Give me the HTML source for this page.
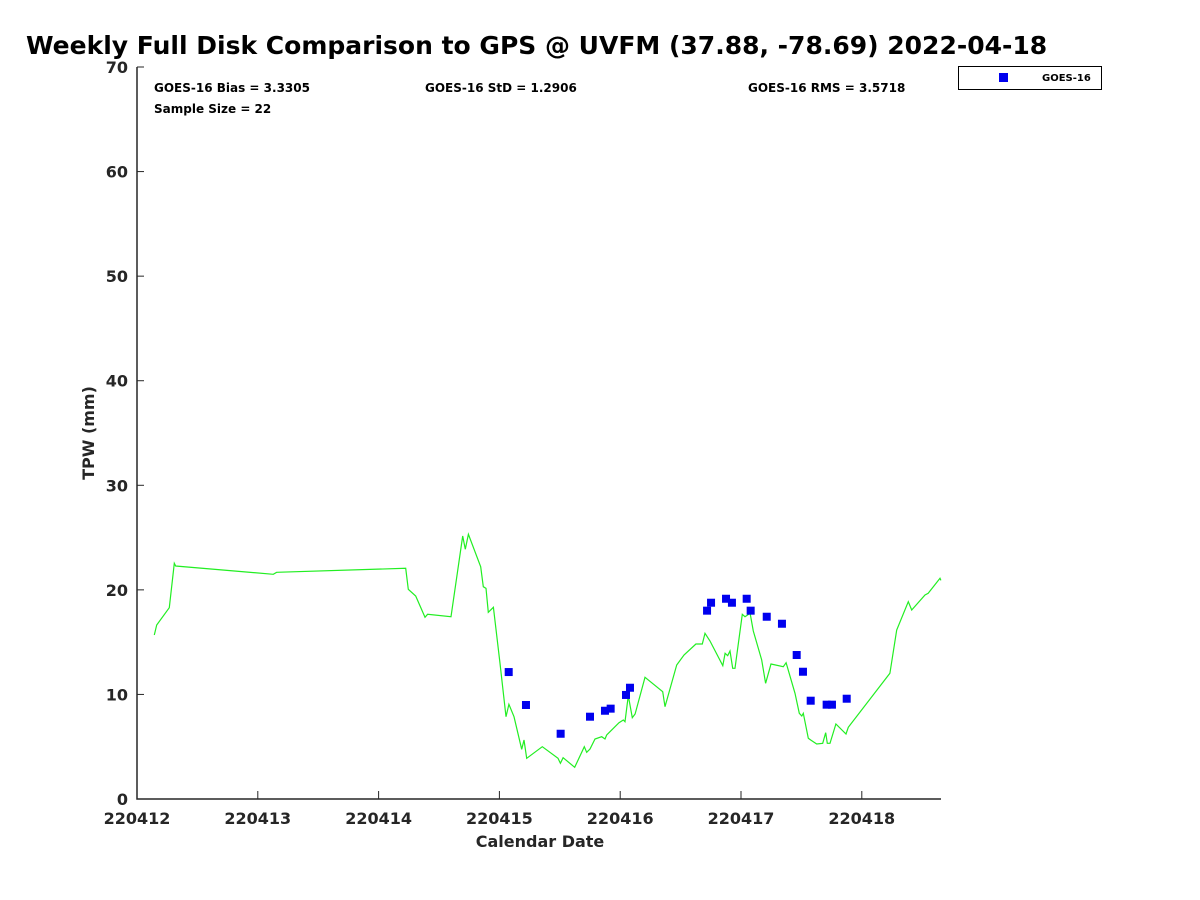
<!DOCTYPE html>
<html><head><meta charset="utf-8"><style>
html,body{margin:0;padding:0;background:#fff;}
svg{display:block;font-family:"DejaVu Sans","Liberation Sans",sans-serif;}
</style></head><body>
<svg id="chart" width="1200" height="900" viewBox="0 0 1200 900">
<text x="26" y="54" font-size="25" font-weight="bold" fill="#000">Weekly Full Disk Comparison to GPS @ UVFM (37.88, -78.69) 2022-04-18</text>
<g id="axes"></g>
<g id="series"></g>
<text x="154" y="92" font-size="12" font-weight="bold">GOES-16 Bias = 3.3305</text>
<text x="425" y="92" font-size="12" font-weight="bold">GOES-16 StD = 1.2906</text>
<text x="748" y="92" font-size="12" font-weight="bold">GOES-16 RMS = 3.5718</text>
<text x="154" y="113" font-size="12" font-weight="bold">Sample Size = 22</text>
<g>
<rect x="958.5" y="66.5" width="143" height="23" fill="#fff" stroke="#000" stroke-width="1"/>
<rect x="999" y="73" width="9" height="9" fill="#0000ee"/>
<text x="1042" y="81" font-size="10" font-weight="bold">GOES-16</text>
</g>
<text x="540" y="847" font-size="16" font-weight="bold" fill="#262626" text-anchor="middle">Calendar Date</text>
<text transform="translate(94,433) rotate(-90)" font-size="16" font-weight="bold" fill="#262626" text-anchor="middle">TPW (mm)</text>
</svg>
<script>
const xTickLabels = ["220412","220413","220414","220415","220416","220417","220418"];
const yTickValues = [0,10,20,30,40,50,60,70];
const gpsDays = [0.143,0.163,0.267,0.309,0.320,1.128,1.156,2.224,2.246,2.307,2.384,2.406,2.599,2.696,2.718,2.743,2.845,2.867,2.889,2.908,2.950,3.005,3.055,3.079,3.121,3.185,3.204,3.226,3.355,3.485,3.505,3.527,3.623,3.703,3.723,3.750,3.791,3.847,3.874,3.888,3.990,4.026,4.040,4.067,4.100,4.123,4.205,4.352,4.371,4.468,4.528,4.627,4.680,4.702,4.743,4.849,4.868,4.890,4.909,4.931,4.950,5.011,5.033,5.075,5.102,5.171,5.204,5.248,5.350,5.373,5.447,5.483,5.503,5.516,5.557,5.577,5.627,5.676,5.701,5.714,5.737,5.786,5.869,5.888,6.233,6.289,6.385,6.413,6.523,6.550,6.647,6.655];
const gpsTpw = [15.68,16.64,18.29,22.54,22.28,21.49,21.68,22.06,20.05,19.41,17.38,17.66,17.43,25.15,23.88,25.31,22.21,20.30,20.15,17.85,18.33,12.98,7.87,9.06,7.87,4.75,5.64,3.89,5.00,3.89,3.41,3.95,3.03,5.00,4.47,4.78,5.74,5.96,5.74,6.12,7.30,7.55,7.39,9.88,7.77,8.13,11.64,10.26,8.83,12.81,13.77,14.82,14.82,15.85,15.11,12.75,13.93,13.70,14.15,12.50,12.50,17.66,17.43,17.76,16.07,13.29,11.06,12.91,12.65,13.03,10.11,8.20,7.94,8.20,5.80,5.64,5.26,5.33,6.34,5.33,5.33,7.17,6.22,6.86,12.02,16.16,18.87,18.07,19.51,19.67,21.11,20.9];
const goesDays = [3.077,3.220,3.507,3.750,3.874,3.921,4.048,4.081,4.719,4.752,4.876,4.925,5.047,5.080,5.213,5.339,5.461,5.513,5.577,5.709,5.753,5.875];
const goesTpw = [12.14,8.99,6.24,7.87,8.44,8.64,9.95,10.64,18.01,18.77,19.15,18.77,19.15,18.01,17.43,16.76,13.77,12.17,9.40,9.02,9.02,9.59];

const NS="http://www.w3.org/2000/svg";
const X0=137, DAYPX=120.8, XMAX=941, Y0=799, MMPX=10.457;
const xs=d=>X0+d*DAYPX, ys=v=>Y0-v*MMPX;
function mk(tag,attrs,parent){const e=document.createElementNS(NS,tag);for(const k in attrs)e.setAttribute(k,attrs[k]);parent.appendChild(e);return e;}
const axes=document.getElementById('axes'), series=document.getElementById('series');
let a=mk('path',{d:`M${X0},${ys(70)} V${Y0} H${XMAX}`,fill:'none',stroke:'#262626','stroke-width':1.5},axes);


yTickValues.forEach(v=>{
  const t=mk('line',{x1:X0,x2:X0+7,y1:ys(v),y2:ys(v),stroke:'#262626','stroke-width':1},axes);
  
  
  const l=mk('text',{x:X0-9,y:ys(v)+6,'font-size':16,'font-weight':'bold',fill:'#262626','text-anchor':'end'},axes);
  l.textContent=v;
  
  
});
xTickLabels.forEach((s,i)=>{
  const t=mk('line',{x1:xs(i),x2:xs(i),y1:Y0,y2:Y0-8,stroke:'#262626','stroke-width':1},axes);
  
  
  const l=mk('text',{x:xs(i),y:Y0+25,'font-size':16,'font-weight':'bold',fill:'#262626','text-anchor':'middle'},axes);
  l.textContent=s;
  
  
});
const pl=mk('polyline',{points:gpsDays.map((d,i)=>xs(d).toFixed(1)+','+ys(gpsTpw[i]).toFixed(1)).join(' '),fill:'none',stroke:'#22ee22','stroke-width':1.2},series);


goesDays.forEach((d,i)=>{
  const r=mk('rect',{x:xs(d)-4,y:ys(goesTpw[i])-4,width:8,height:8,fill:'#0000ee'},series);
  
  
});
</script>
</body></html>
